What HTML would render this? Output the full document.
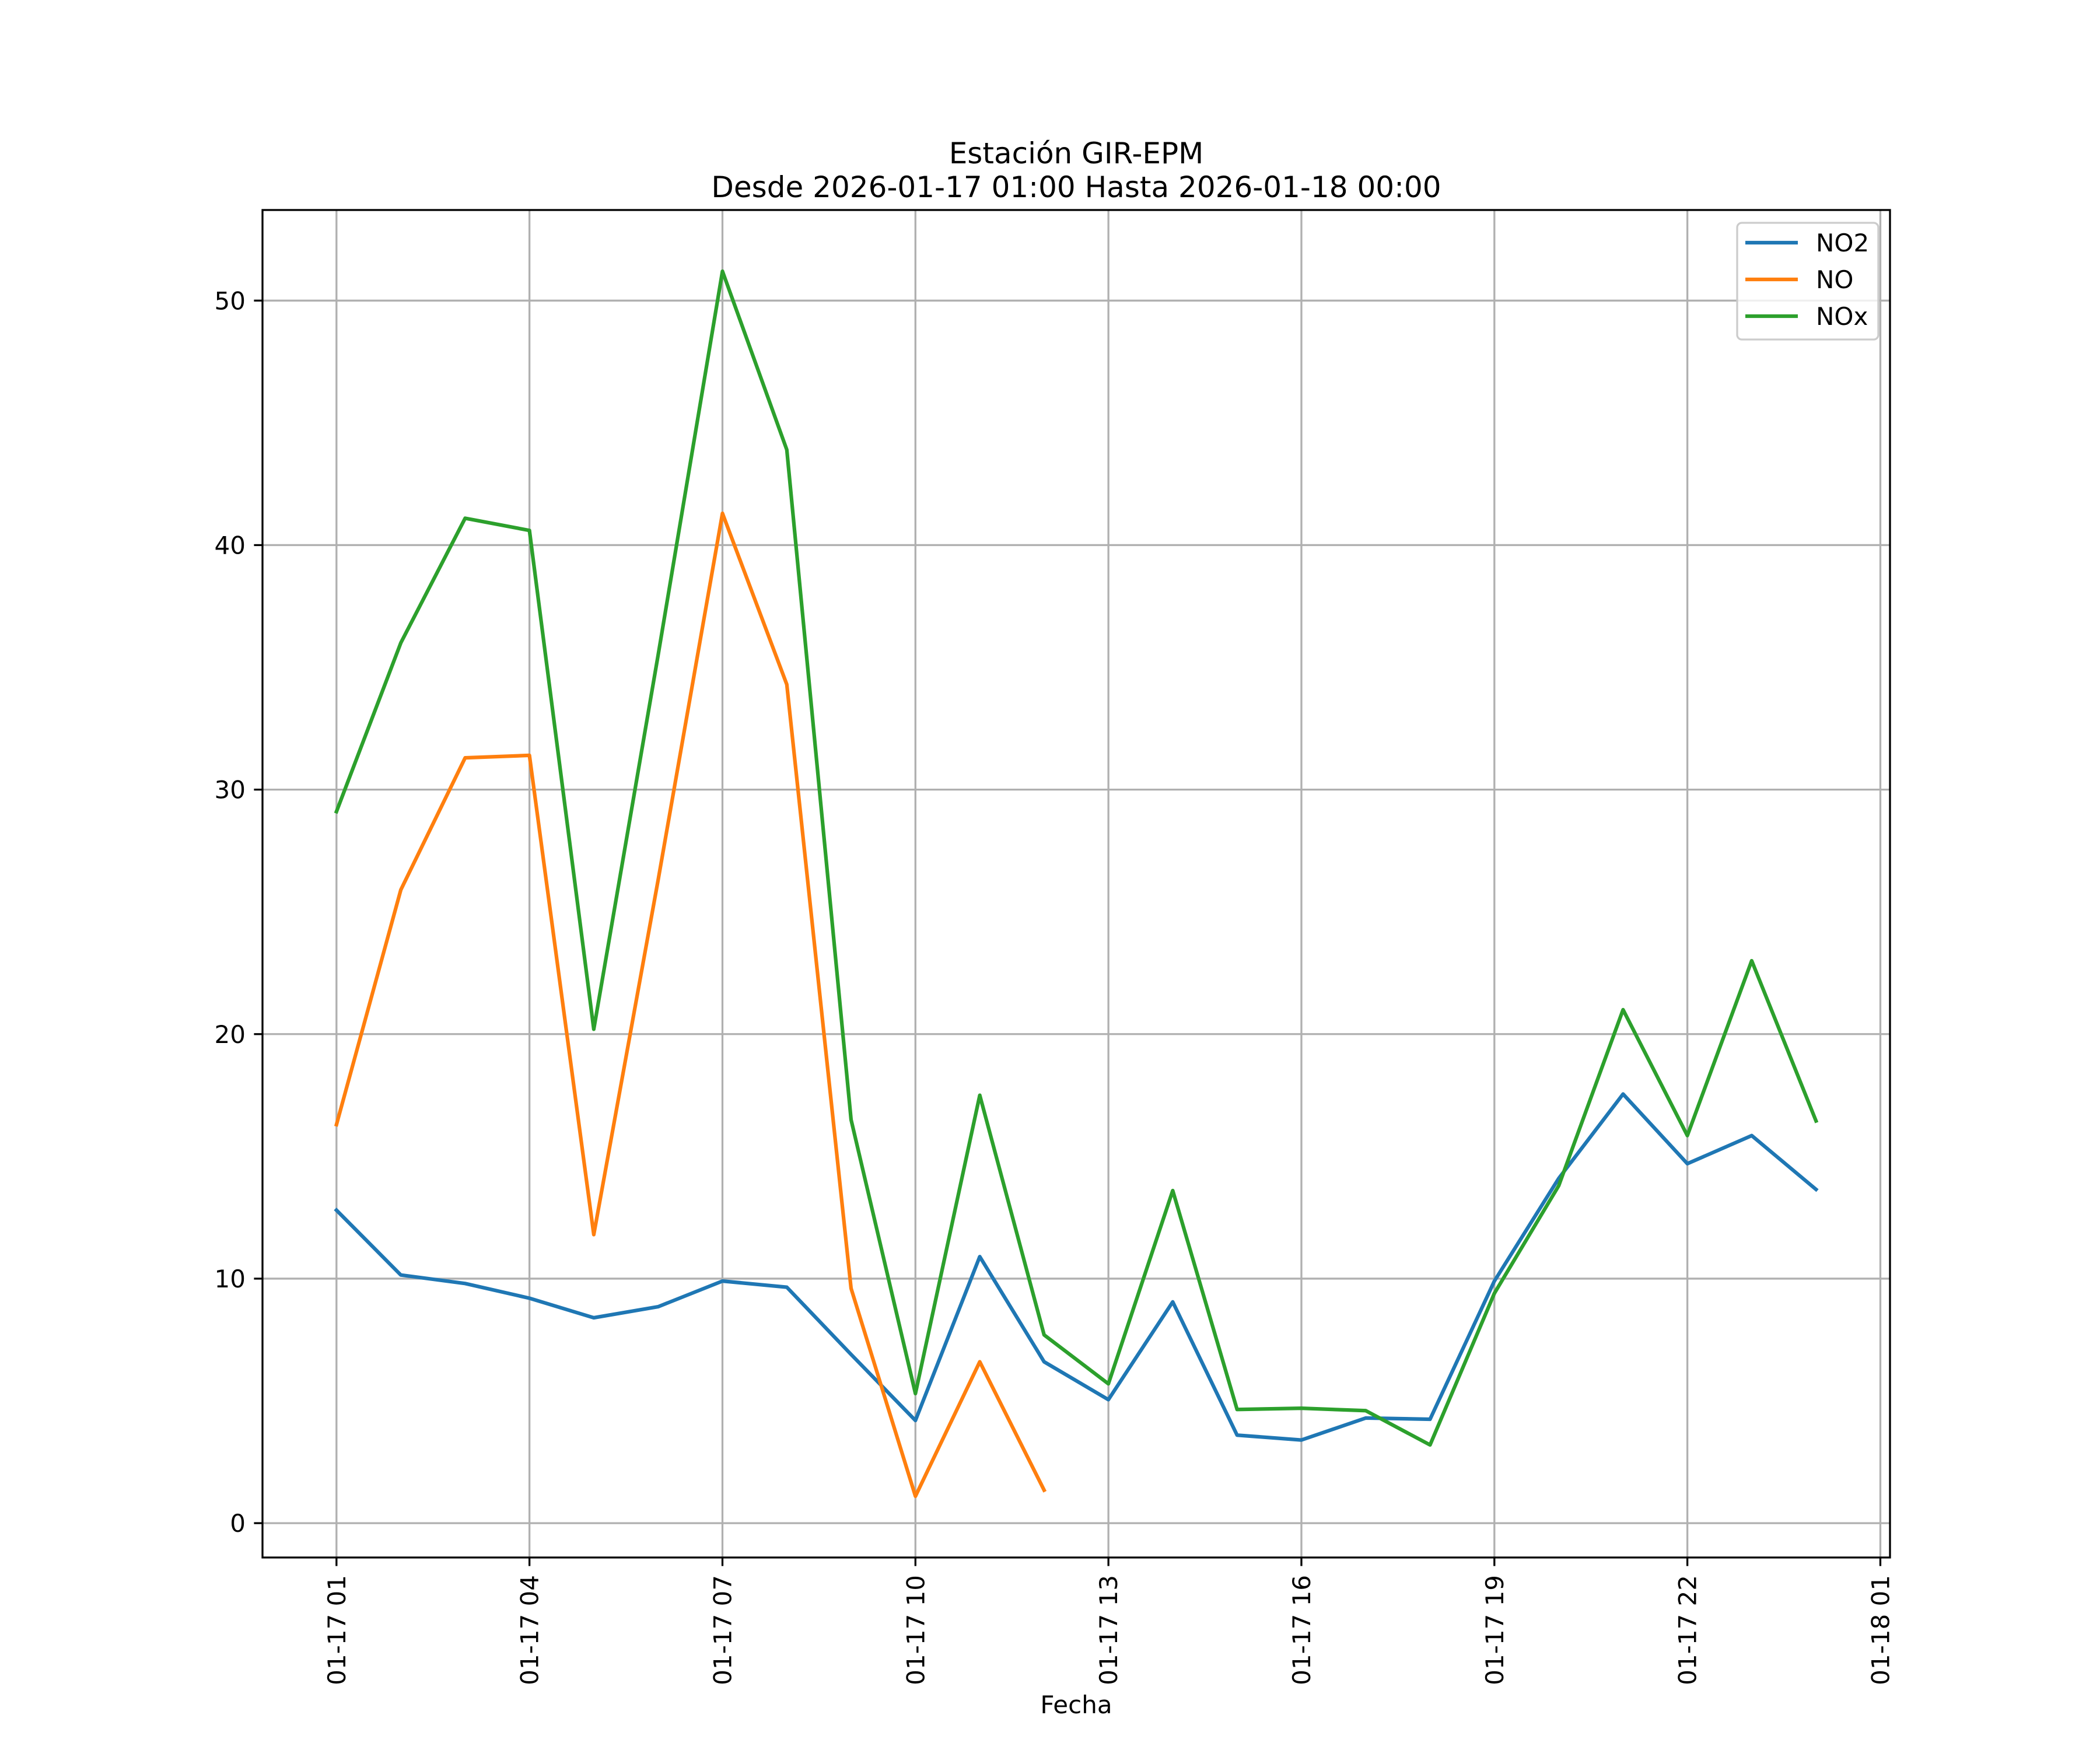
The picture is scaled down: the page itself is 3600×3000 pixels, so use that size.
<!DOCTYPE html>
<html><head><meta charset="utf-8"><style>
html,body{margin:0;padding:0;background:#fff;}
svg{display:block;font-family:"DejaVu Sans","Liberation Sans",sans-serif;}
</style></head><body>
<svg id="chart" width="3600" height="3000" viewBox="0 0 3600 3000" xmlns="http://www.w3.org/2000/svg">
<rect x="0" y="0" width="3600" height="3000" fill="#fff"/>
<g id="grid"></g>
<g id="series"></g>
<rect x="450" y="360" width="2790" height="2310" fill="none" stroke="#000" stroke-width="3.3"/>
<g id="ticks"></g>
<text x="1845" y="280" font-size="50" text-anchor="middle">Estación GIR-EPM</text>
<text x="1845" y="338" font-size="50" text-anchor="middle">Desde 2026-01-17 01:00 Hasta 2026-01-18 00:00</text>
<text x="1845" y="2937" font-size="42" text-anchor="middle">Fecha</text>
<g>
<rect x="2978" y="382" width="242" height="200" rx="8" fill="#fff" fill-opacity="0.8" stroke="#ccc" stroke-width="3.3"/>
<g><line x1="2992" y1="416" x2="3082" y2="416" stroke="#1f77b4" stroke-width="6.25"/><text x="3113" y="431" font-size="42">NO2</text></g>
<g><line x1="2992" y1="479" x2="3082" y2="479" stroke="#ff7f0e" stroke-width="6.25"/><text x="3113" y="494" font-size="42">NO</text></g>
<g><line x1="2992" y1="542" x2="3082" y2="542" stroke="#2ca02c" stroke-width="6.25"/><text x="3113" y="557" font-size="42">NOx</text></g>
</g>
</svg>
<script>
const hours = [1,2,3,4,5,6,7,8,9,10,11,12,13,14,15,16,17,18,19,20,21,22,23,24];
const no2 = [12.8,10.15,9.8,9.2,8.4,8.85,9.9,9.65,6.9,4.2,10.9,6.6,5.05,9.05,3.6,3.4,4.3,4.25,9.9,14.1,17.55,14.7,15.85,13.65];
const no = [16.3,25.9,31.3,31.4,11.8,26.3,41.3,34.3,9.6,1.1,6.6,1.35,null,null,null,null,null,null,null,null,null,null,null,null];
const nox = [29.1,36.0,41.1,40.6,20.2,35.5,51.2,43.9,16.5,5.3,17.5,7.7,5.7,13.6,4.65,4.7,4.6,3.2,9.4,13.8,21.0,15.85,23.0,16.45];
const yTicks = [0,10,20,30,40,50];
const xTickHours = [1,4,7,10,13,16,19,22,25];
const xTickLabels = ["01-17 01","01-17 04","01-17 07","01-17 10","01-17 13","01-17 16","01-17 19","01-17 22","01-18 01"];

const NS="http://www.w3.org/2000/svg";
const L=450,R=3240,T=360,B=2670;
const all=[...no2,...no.filter(v=>v!==null),...nox];
const dmin=Math.min(...all),dmax=Math.max(...all);
const ymin=dmin-0.05*(dmax-dmin),ymax=dmax+0.05*(dmax-dmin);
const hmin=hours[0],hmax=hours[hours.length-1];
const xmin=hmin-0.05*(hmax-hmin),xmax=hmax+0.05*(hmax-hmin);
function xs(h){return L+(h-xmin)/(xmax-xmin)*(R-L);}
function ys(v){return B-(v-ymin)/(ymax-ymin)*(B-T);}
function mk(tag,attrs,parent){const e=document.createElementNS(NS,tag);for(const k in attrs)e.setAttribute(k,attrs[k]);parent.appendChild(e);return e;}
const grid=document.getElementById('grid'),ticks=document.getElementById('ticks'),series=document.getElementById('series');
yTicks.forEach(v=>{
  const y=ys(v);
  const g=mk('line',{x1:L,x2:R,y1:y,y2:y,stroke:'#b0b0b0','stroke-width':3.3},grid);
  
  
  const t=mk('line',{x1:L-14.6,x2:L,y1:y,y2:y,stroke:'#000','stroke-width':3.3},ticks);
  
  
  const tx=mk('text',{x:L-29,y:y+15,'font-size':42,'text-anchor':'end'},ticks);
  tx.textContent=v;
  
  
});
xTickHours.forEach((h,i)=>{
  const x=xs(h);
  const g=mk('line',{x1:x,x2:x,y1:T,y2:B,stroke:'#b0b0b0','stroke-width':3.3},grid);
  
  
  const t=mk('line',{x1:x,x2:x,y1:B,y2:B+14.6,stroke:'#000','stroke-width':3.3},ticks);
  
  
  const tx=mk('text',{x:0,y:0,'font-size':42,'text-anchor':'end',transform:`translate(${x+15},${B+30}) rotate(-90)`},ticks);
  tx.textContent=xTickLabels[i];
  
  
});
function drawLine(vals,color,name){
  let d='',pen=false;
  vals.forEach((v,i)=>{
    if(v===null){pen=false;return;}
    d+=(pen?'L':'M')+xs(hours[i]).toFixed(1)+' '+ys(v).toFixed(1)+' ';pen=true;
  });
  const p=mk('path',{d:d,fill:'none',stroke:color,'stroke-width':6.25,'stroke-linejoin':'round','stroke-linecap':'square'},series);
  
  
}
drawLine(no2,'#1f77b4','no2-line');
drawLine(no,'#ff7f0e','no-line');
drawLine(nox,'#2ca02c','nox-line');
</script>
</body></html>
